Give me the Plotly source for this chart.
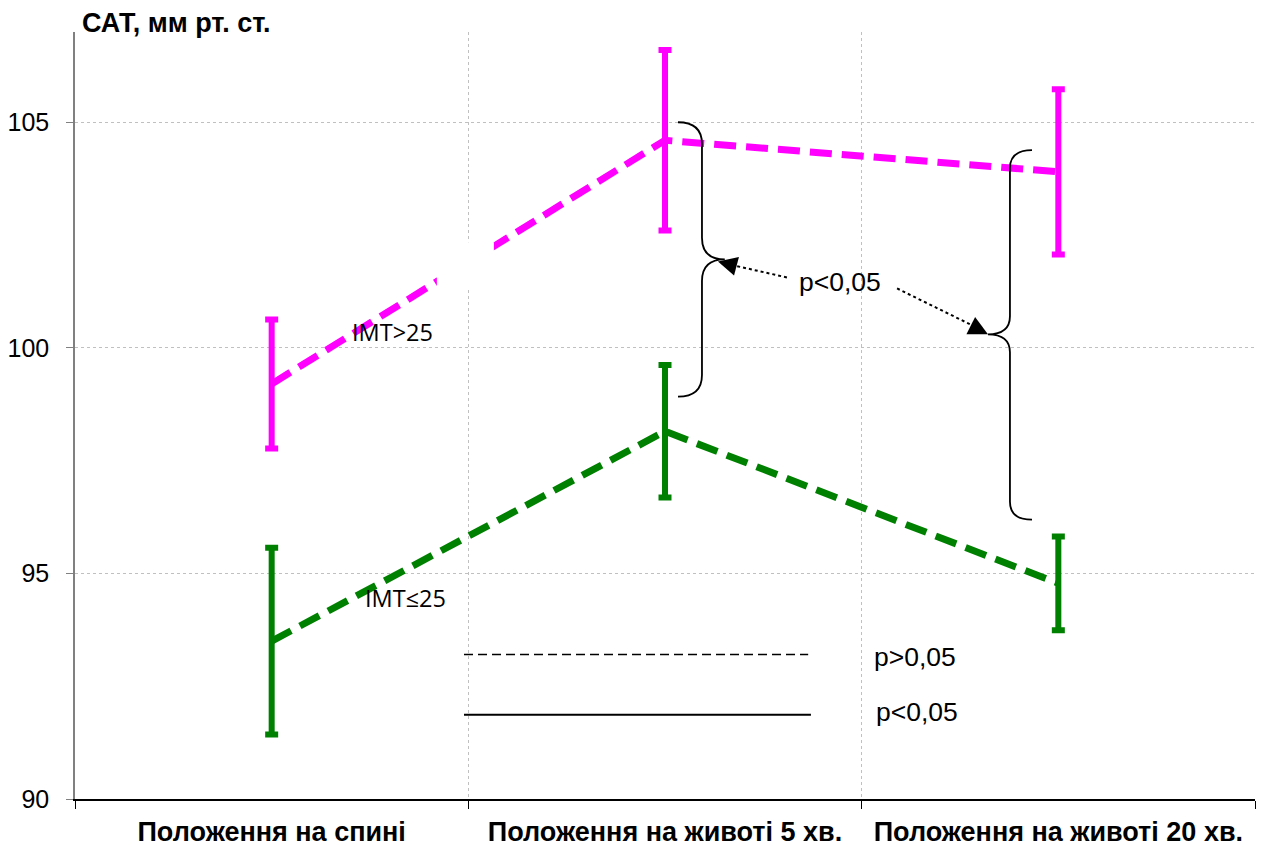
import plotly.graph_objects as go

categories = ["Положення на спині", "Положення на животі 5 хв.", "Положення на животі 20 хв."]
x_idx = [0, 1, 2]

imt_high_mean = [99.2, 104.6, 103.9]
imt_high_err = [1.43, 2.0, 1.83]
imt_low_mean = [93.5, 98.15, 94.78]
imt_low_err = [2.07, 1.47, 1.04]

y_ticks = [90, 95, 100, 105]

MAG = "#FF00FF"
GRN = "#008000"
AX_FONT = "Liberation Sans, Arial, sans-serif"

fig = go.Figure()

fig.add_trace(go.Scatter(
    x=x_idx, y=imt_high_mean, mode="lines",
    line=dict(color=MAG, width=7, dash="22px,10px"),
    error_y=dict(type="data", array=imt_high_err, color=MAG, thickness=6, width=6.5),
    showlegend=False, hoverinfo="skip"))
fig.add_trace(go.Scatter(
    x=x_idx, y=imt_low_mean, mode="lines",
    line=dict(color=GRN, width=7, dash="22px,10px"),
    error_y=dict(type="data", array=imt_low_err, color=GRN, thickness=6, width=6.5),
    showlegend=False, hoverinfo="skip"))


def brace_path(xe, xs, xt, yt, ym, yb, ry):
    return (f"M{xe},{yt} Q{xs},{yt} {xs},{yt - ry} "
            f"L{xs},{ym + ry} Q{xs},{ym} {xt},{ym} "
            f"Q{xs},{ym} {xs},{ym - ry} "
            f"L{xs},{yb + ry} Q{xs},{yb} {xe},{yb}")


shapes = []
# white box hiding a piece of the magenta line
shapes.append(dict(type="rect", xref="x", yref="y", x0=0.42, x1=0.565, y0=101.34, y1=102.34,
                   fillcolor="white", line=dict(width=0), layer="above"))
# braces
shapes.append(dict(type="path", xref="x", yref="y",
                   path=brace_path(1.033, 1.094, 1.152, 105.0, 101.96, 98.92, 0.48),
                   line=dict(color="black", width=1.8)))
shapes.append(dict(type="path", xref="x", yref="y",
                   path=brace_path(1.933, 1.877, 1.821, 104.38, 100.30, 96.19, 0.40),
                   line=dict(color="black", width=1.8)))
# dotted arrow shafts
shapes.append(dict(type="line", xref="x", yref="y", x0=1.310, y0=101.56, x1=1.168, y1=101.84,
                   line=dict(color="black", width=2, dash="dot")))
shapes.append(dict(type="line", xref="x", yref="y", x0=1.590, y0=101.316, x1=1.790, y1=100.46,
                   line=dict(color="black", width=2, dash="dot")))
# legend sample lines
shapes.append(dict(type="line", xref="x", yref="y", x0=0.489, y0=93.2, x1=1.364, y1=93.2,
                   line=dict(color="black", width=1.5, dash="9px,5px")))
shapes.append(dict(type="line", xref="x", yref="y", x0=0.489, y0=91.87, x1=1.371, y1=91.87,
                   line=dict(color="black", width=2)))

annotations = []
# arrow heads
annotations.append(dict(x=1.1346, y=101.915, xref="x", yref="y", text="", showarrow=True,
                        ax=15.5, ay=4.1, arrowhead=2, arrowsize=2.4, arrowwidth=1.6,
                        arrowcolor="black", standoff=0))
annotations.append(dict(x=1.821, y=100.30, xref="x", yref="y", text="", showarrow=True,
                        ax=-14.3, ay=-7.2, arrowhead=2, arrowsize=2.4, arrowwidth=1.6,
                        arrowcolor="black", standoff=0))
annotations.append(dict(x=1.445, y=101.45, xref="x", yref="y", text="p<0,05", showarrow=False,
                        font=dict(family=AX_FONT, size=26.5, color="black"),
                        xanchor="center", yanchor="middle"))
annotations.append(dict(x=1.636, y=93.15, xref="x", yref="y", text="p>0,05", showarrow=False,
                        font=dict(family=AX_FONT, size=26.5, color="black"),
                        xanchor="center", yanchor="middle"))
annotations.append(dict(x=1.641, y=91.93, xref="x", yref="y", text="p<0,05", showarrow=False,
                        font=dict(family=AX_FONT, size=26.5, color="black"),
                        xanchor="center", yanchor="middle"))
annotations.append(dict(x=0.307, y=100.34, xref="x", yref="y", text="IMT>25", showarrow=False,
                        font=dict(family="Open Sans, sans-serif", size=23.5, color="black"),
                        xanchor="center", yanchor="middle"))
annotations.append(dict(x=0.339, y=94.46, xref="x", yref="y", text="IMT≤25", showarrow=False,
                        font=dict(family="Open Sans, sans-serif", size=23.5, color="black"),
                        xanchor="center", yanchor="middle"))
annotations.append(dict(x=0.004, y=1.012, xref="paper", yref="paper", text="<b>САТ, мм рт. ст.</b>",
                        showarrow=False, font=dict(family=AX_FONT, size=27, color="black"),
                        xanchor="left", yanchor="middle"))

fig.update_layout(
    width=1264, height=847,
    margin=dict(l=75, r=9, t=32, b=48, autoexpand=False),
    paper_bgcolor="white", plot_bgcolor="white",
    shapes=shapes, annotations=annotations,
    showlegend=False,
    xaxis=dict(
        range=[-0.5, 2.5], tickvals=x_idx, ticktext=[f"<b>{c}</b>" for c in categories],
        ticks="", showgrid=False, zeroline=False, automargin=False,
        showline=True, linecolor="black", linewidth=1.5,
        tickfont=dict(family=AX_FONT, size=27, color="black"),
        ticklabelstandoff=8,
        minor=dict(tickvals=[-0.5, 0.5, 1.5, 2.5], ticks="outside", ticklen=8,
                   tickcolor="black", tickwidth=1, showgrid=True,
                   gridcolor="#c0c0c0", griddash="dot", gridwidth=1),
    ),
    yaxis=dict(
        range=[90, 107], tickvals=y_ticks, ticks="outside", ticklen=7, tickcolor="#808080",
        showgrid=True, gridcolor="#c0c0c0", griddash="dot", gridwidth=1, zeroline=False,
        automargin=False,
        showline=True, linecolor="#808080", linewidth=1.5,
        tickfont=dict(family=AX_FONT, size=25, color="black"),
        ticklabelstandoff=12,
    ),
)

fig.write_html("out.html")
